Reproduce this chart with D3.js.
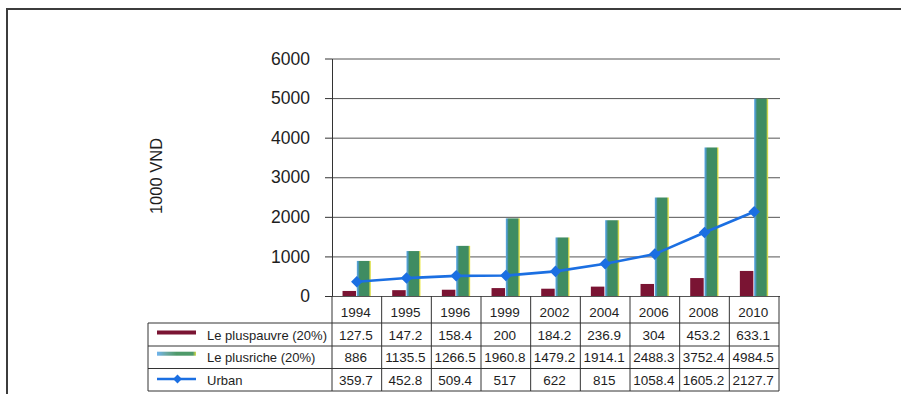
<!DOCTYPE html>
<html>
<head>
<meta charset="utf-8">
<script src="https://cdn.jsdelivr.net/npm/d3@7"></script>
<style>
  html, body { margin: 0; padding: 0; background: #ffffff; }
  svg { display: block; }
  text { font-family: "Liberation Sans", Arial, sans-serif; fill: #1e1e1e; }
</style>
</head>
<body>
<svg id="chart" width="901" height="394"></svg>
<script>
// Household income per capita by group (thousand VND)
const years = ["1994", "1995", "1996", "1999", "2002", "2004", "2006", "2008", "2010"];
const poorest = [127.5, 147.2, 158.4, 200, 184.2, 236.9, 304, 453.2, 633.1];
const richest = [886, 1135.5, 1266.5, 1960.8, 1479.2, 1914.1, 2488.3, 3752.4, 4984.5];
const urban = [359.7, 452.8, 509.4, 517, 622, 815, 1058.4, 1605.2, 2127.7];
const seriesNames = ["Le pluspauvre (20%)", "Le plusriche (20%)", "Urban"];
const yTicks = [0, 1000, 2000, 3000, 4000, 5000, 6000];
const yTitle = "1000 VND";

const maroon = "#7a1433";
const green = "#3f8c62";
const lineBlue = "#1b6fe2";
const ink = "#333333";

const svg = d3.select("#chart");

// gradients for the green columns: blue edge on the left, yellow edge on the right
const defs = svg.append("defs");
const gBar = defs.append("linearGradient").attr("id", "gGreen")
  .attr("x1", "0%").attr("x2", "100%").attr("y1", "0%").attr("y2", "0%");
[["0%", "#5ca9ea"], ["12%", "#4a94b0"], ["20%", green], ["86%", green], ["92%", "#b9c84e"], ["100%", "#ecea4a"]]
  .forEach(([o, c]) => gBar.append("stop").attr("offset", o).attr("stop-color", c));
const gKey = defs.append("linearGradient").attr("id", "gKey")
  .attr("x1", "0%").attr("x2", "100%").attr("y1", "0%").attr("y2", "0%");
[["0%", "#6fb3ee"], ["25%", "#6aa8a0"], ["50%", "#4f9a6a"], ["92%", "#4f9a6a"], ["100%", "#d9dd4a"]]
  .forEach(([o, c]) => gKey.append("stop").attr("offset", o).attr("stop-color", c));

// outer frame (open on right and bottom)
svg.append("path")
  .attr("d", "M7,394 L7,9 L901,9")
  .attr("fill", "none").attr("stroke", "#3c3c3c").attr("stroke-width", 2);

const plotLeft = 332, plotRight = 779;
const x = d3.scaleBand().domain(years).range([plotLeft, plotRight]);
const y = d3.scaleLinear().domain([0, 6000]).range([296, 58.5]);

// gridlines
svg.append("g")
  .attr("transform", `translate(${plotLeft},0)`)
  .call(d3.axisLeft(y).tickValues(yTicks).tickSize(-(plotRight - plotLeft + 1)).tickFormat(""))
  .call(g => g.select(".domain").remove())
  .call(g => g.selectAll("line").attr("stroke", "#555").attr("stroke-width", 1));

// y axis with outer tick marks and labels
svg.append("g")
  .attr("transform", `translate(${plotLeft},0)`)
  .call(d3.axisLeft(y).tickValues(yTicks).tickFormat(d3.format("d"))
    .tickSize(7).tickSizeOuter(0).tickPadding(15))
  .call(g => g.select(".domain").attr("stroke", ink))
  .call(g => g.selectAll("line").attr("stroke", ink))
  .call(g => g.selectAll("text").attr("font-size", 17.5).attr("fill", "#1e1e1e")
    .style("font-family", "'Liberation Sans', Arial, sans-serif"));

// axis title
svg.append("text")
  .attr("transform", `translate(162,176) rotate(-90)`)
  .attr("text-anchor", "middle")
  .attr("font-size", 16.5)
  .attr("fill", "#2a2a2a")
  .text(yTitle);

const bw = x.bandwidth();
const barW = 13.5;

// poorest quintile columns
svg.append("g").selectAll("rect")
  .data(poorest)
  .join("rect")
  .attr("x", (d, i) => x(years[i]) + bw / 2 - barW - 0.8)
  .attr("width", barW)
  .attr("y", d => y(d))
  .attr("height", d => y(0) - y(d))
  .attr("fill", maroon);

// richest quintile columns
svg.append("g").selectAll("rect")
  .data(richest)
  .join("rect")
  .attr("x", (d, i) => x(years[i]) + bw / 2)
  .attr("width", barW + 0.5)
  .attr("y", d => y(d))
  .attr("height", d => y(0) - y(d))
  .attr("fill", "url(#gGreen)");

// urban line with diamond markers
const line = d3.line()
  .x((d, i) => x(years[i]) + bw / 2)
  .y(d => y(d));
svg.append("path")
  .datum(urban)
  .attr("d", line)
  .attr("fill", "none")
  .attr("stroke", lineBlue)
  .attr("stroke-width", 2.6);

const diamond = d3.symbol().type(d3.symbolDiamond2).size(85);
svg.append("g").selectAll("path")
  .data(urban)
  .join("path")
  .attr("transform", (d, i) => `translate(${x(years[i]) + bw / 2},${y(d)})`)
  .attr("d", diamond)
  .attr("fill", lineBlue);

// data table below the plot
const rowEdges = [296, 323, 346, 368.5, 391];
const tableLeft = 148;
const tbl = svg.append("g").attr("stroke", "#333").attr("stroke-width", 1);

// vertical separators between year columns
const colEdges = years.map(yr => x(yr)).concat([plotRight]);
tbl.selectAll("line.col")
  .data(colEdges)
  .join("line")
  .attr("class", "col")
  .attr("x1", d => d).attr("x2", d => d)
  .attr("y1", rowEdges[0]).attr("y2", rowEdges[4]);

// horizontal rules
tbl.selectAll("line.row")
  .data(rowEdges.slice(1))
  .join("line")
  .attr("class", "row")
  .attr("x1", tableLeft).attr("x2", plotRight)
  .attr("y1", d => d).attr("y2", d => d);

// legend column left border
tbl.append("line")
  .attr("x1", tableLeft).attr("x2", tableLeft)
  .attr("y1", rowEdges[1]).attr("y2", rowEdges[4]);

// header: years
const baseLines = [317, 339.5, 362, 385];
svg.append("g").selectAll("text")
  .data(years)
  .join("text")
  .attr("x", d => x(d) + bw / 2 - 1)
  .attr("y", baseLines[0])
  .attr("text-anchor", "middle")
  .attr("font-size", 13.5)
  .text(d => d);

// value rows
const rows = [poorest, richest, urban];
rows.forEach((vals, r) => {
  svg.append("g").selectAll("text")
    .data(vals)
    .join("text")
    .attr("x", (d, i) => x(years[i]) + bw / 2 - 1)
    .attr("y", baseLines[r + 1])
    .attr("text-anchor", "middle")
    .attr("font-size", 13.5)
    .text(d => String(d));
});

// legend keys and labels
const keyX0 = 157, keyX1 = 196;
const keyMid = [332.5, 353.7, 379];
svg.append("rect")
  .attr("x", keyX0).attr("y", keyMid[0] - 2).attr("width", keyX1 - keyX0).attr("height", 4)
  .attr("fill", maroon);
svg.append("rect")
  .attr("x", keyX0).attr("y", keyMid[1] - 2).attr("width", keyX1 - keyX0).attr("height", 4)
  .attr("fill", "url(#gKey)");
svg.append("line")
  .attr("x1", keyX0).attr("x2", keyX1).attr("y1", keyMid[2]).attr("y2", keyMid[2])
  .attr("stroke", lineBlue).attr("stroke-width", 2.4);
svg.append("path")
  .attr("transform", `translate(${(keyX0 + keyX1) / 2 + 1},${keyMid[2]})`)
  .attr("d", d3.symbol().type(d3.symbolDiamond2).size(50))
  .attr("fill", lineBlue);

svg.append("g").selectAll("text")
  .data(seriesNames)
  .join("text")
  .attr("x", 207)
  .attr("y", (d, i) => baseLines[i + 1])
  .attr("font-size", 13)
  .text(d => d);
</script>
</body>
</html>
